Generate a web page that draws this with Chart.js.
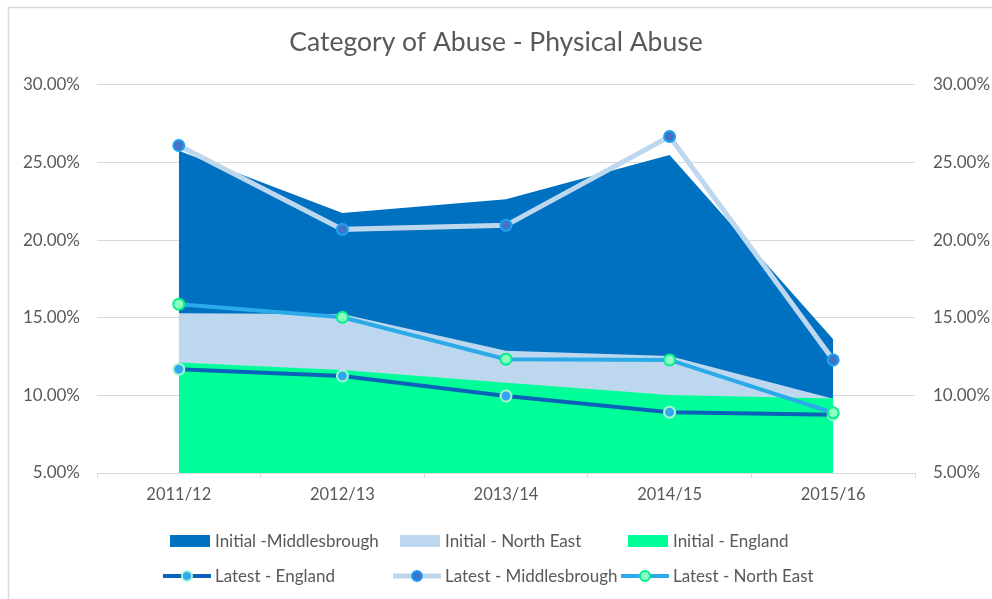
<!DOCTYPE html>
<html>
<head>
<meta charset="utf-8">
<title>Category of Abuse - Physical Abuse</title>
<script src="https://cdn.jsdelivr.net/npm/chart.js@4/dist/chart.umd.min.js"></script>
<style>
    html, body { margin: 0; padding: 0; background: #ffffff; }
    canvas { display: block; }
</style>
</head>
<body>
<canvas id="abuse-chart" width="992" height="599"></canvas>
<script>
const categories = ['2011/12', '2012/13', '2013/14', '2014/15', '2015/16'];
const yTicks = [5, 10, 15, 20, 25, 30];

// percentages
const initialMiddlesbrough = [25.76, 21.75, 22.63, 25.48, 13.62];
const initialNorthEast = [15.28, 15.24, 12.87, 12.54, 9.78];
const initialEngland = [12.11, 11.64, 10.82, 10.02, 9.80];
const latestEngland = [11.68, 11.25, 9.96, 8.92, 8.75];
const latestMiddlesbrough = [26.09, 20.69, 20.95, 26.67, 12.28];
const latestNorthEast = [15.87, 15.03, 12.33, 12.28, 8.88];

const textColor = '#595959';
const gridColor = '#d9d9d9';
const fontFamily = 'Lato, "Open Sans", sans-serif';

const areaDataset = (label, data, color, order) => ({
    label,
    data,
    backgroundColor: color,
    borderColor: color,
    borderWidth: 0,
    pointRadius: 0,
    fill: 'start',
    order,
});

const lineDataset = (label, data, line, pointFill, pointBorder, width, order) => ({
    label,
    data,
    borderColor: line,
    borderWidth: width,
    pointRadius: 5.5,
    pointBorderWidth: 2,
    pointBackgroundColor: pointFill,
    pointBorderColor: pointBorder,
    fill: false,
    order,
});

// grey frame round the chart
const framePlugin = {
    id: 'frame',
    beforeDraw(chart) {
        const { ctx, width, height } = chart;
        ctx.save();
        ctx.fillStyle = '#ffffff';
        ctx.fillRect(0, 0, width, height);
        ctx.strokeStyle = gridColor;
        ctx.lineWidth = 1.5;
        ctx.beginPath();
        ctx.moveTo(8.5, height);
        ctx.lineTo(8.5, 7.5);
        ctx.lineTo(width, 7.5);
        ctx.stroke();
        ctx.restore();
    },
};

// three-column legend under the axis
const gridLegendPlugin = {
    id: 'gridLegend',
    afterDraw(chart) {
        const { ctx } = chart;
        const columns = [215, 445, 673];
        const rows = [541, 576];
        ctx.save();
        ctx.font = '17px ' + fontFamily;
        ctx.textBaseline = 'middle';
        ctx.textAlign = 'left';
        chart.data.datasets.forEach((ds, i) => {
            const x = columns[i % 3];
            const y = rows[Math.floor(i / 3)];
            if (ds.fill) {
                ctx.fillStyle = ds.backgroundColor;
                ctx.fillRect(x - 45, y - 6, 40, 12);
            } else {
                ctx.strokeStyle = ds.borderColor;
                ctx.lineWidth = ds.borderWidth;
                ctx.beginPath();
                ctx.moveTo(x - 52, y);
                ctx.lineTo(x - 4, y);
                ctx.stroke();
                ctx.beginPath();
                ctx.arc(x - 28, y, 5, 0, Math.PI * 2);
                ctx.fillStyle = ds.pointBackgroundColor;
                ctx.fill();
                ctx.lineWidth = 2;
                ctx.strokeStyle = ds.pointBorderColor;
                ctx.stroke();
            }
            ctx.fillStyle = textColor;
            ctx.fillText(ds.label, x, y + 1);
        });
        ctx.restore();
    },
};

const percentAxis = (position, padding, width) => ({
    type: 'linear',
    position,
    min: 5,
    max: 30,
    afterBuildTicks: (scale) => {
        scale.ticks = yTicks.map((v) => ({ value: v }));
    },
    afterFit: (scale) => {
        scale.width = width;
    },
    border: { display: false },
    ticks: {
        color: textColor,
        padding,
        font: { family: fontFamily, size: 17 },
        callback: (v) => v.toFixed(2) + '%',
    },
});

const yLeft = percentAxis('left', 17, 97);
yLeft.grid = { color: gridColor, lineWidth: 1, drawTicks: false };

const yRight = percentAxis('right', 18, 77);
yRight.grid = { display: false, drawTicks: false };

new Chart(document.getElementById('abuse-chart'), {
    type: 'line',
    data: {
        labels: categories,
        datasets: [
            areaDataset('Initial -Middlesbrough', initialMiddlesbrough, '#0070c0', 5),
            areaDataset('Initial - North East', initialNorthEast, '#bdd7ee', 4),
            areaDataset('Initial - England', initialEngland, '#00ff99', 3),
            lineDataset('Latest - England', latestEngland, '#0b62b8', '#2ea8f0', '#a8f7d0', 4, 2),
            lineDataset('Latest - Middlesbrough', latestMiddlesbrough, '#bdd7ee', '#4472c4', '#1aa3f0', 5, 1),
            lineDataset('Latest - North East', latestNorthEast, '#2aaae8', '#8affc0', '#00f08c', 4, 0),
        ],
    },
    options: {
        responsive: false,
        animation: false,
        elements: {
            line: { tension: 0 },
        },
        layout: {
            padding: 0,
        },
        scales: {
            x: {
                offset: true,
                afterFit: (scale) => {
                    scale.height = 126;
                },
                grid: {
                    offset: true,
                    drawOnChartArea: false,
                    drawTicks: true,
                    tickLength: 5,
                    color: gridColor,
                },
                border: { display: true, color: gridColor },
                ticks: {
                    color: textColor,
                    padding: 7,
                    font: { family: fontFamily, size: 16.5 },
                },
            },
            y: yLeft,
            y2: yRight,
        },
        plugins: {
            legend: { display: false },
            tooltip: { enabled: false },
            title: {
                display: true,
                text: 'Category of Abuse - Physical Abuse',
                color: textColor,
                font: { family: fontFamily, size: 26.5, weight: 'normal' },
                padding: { top: 27, bottom: 26 },
            },
        },
    },
    plugins: [framePlugin, gridLegendPlugin],
});
</script>
</body>
</html>
